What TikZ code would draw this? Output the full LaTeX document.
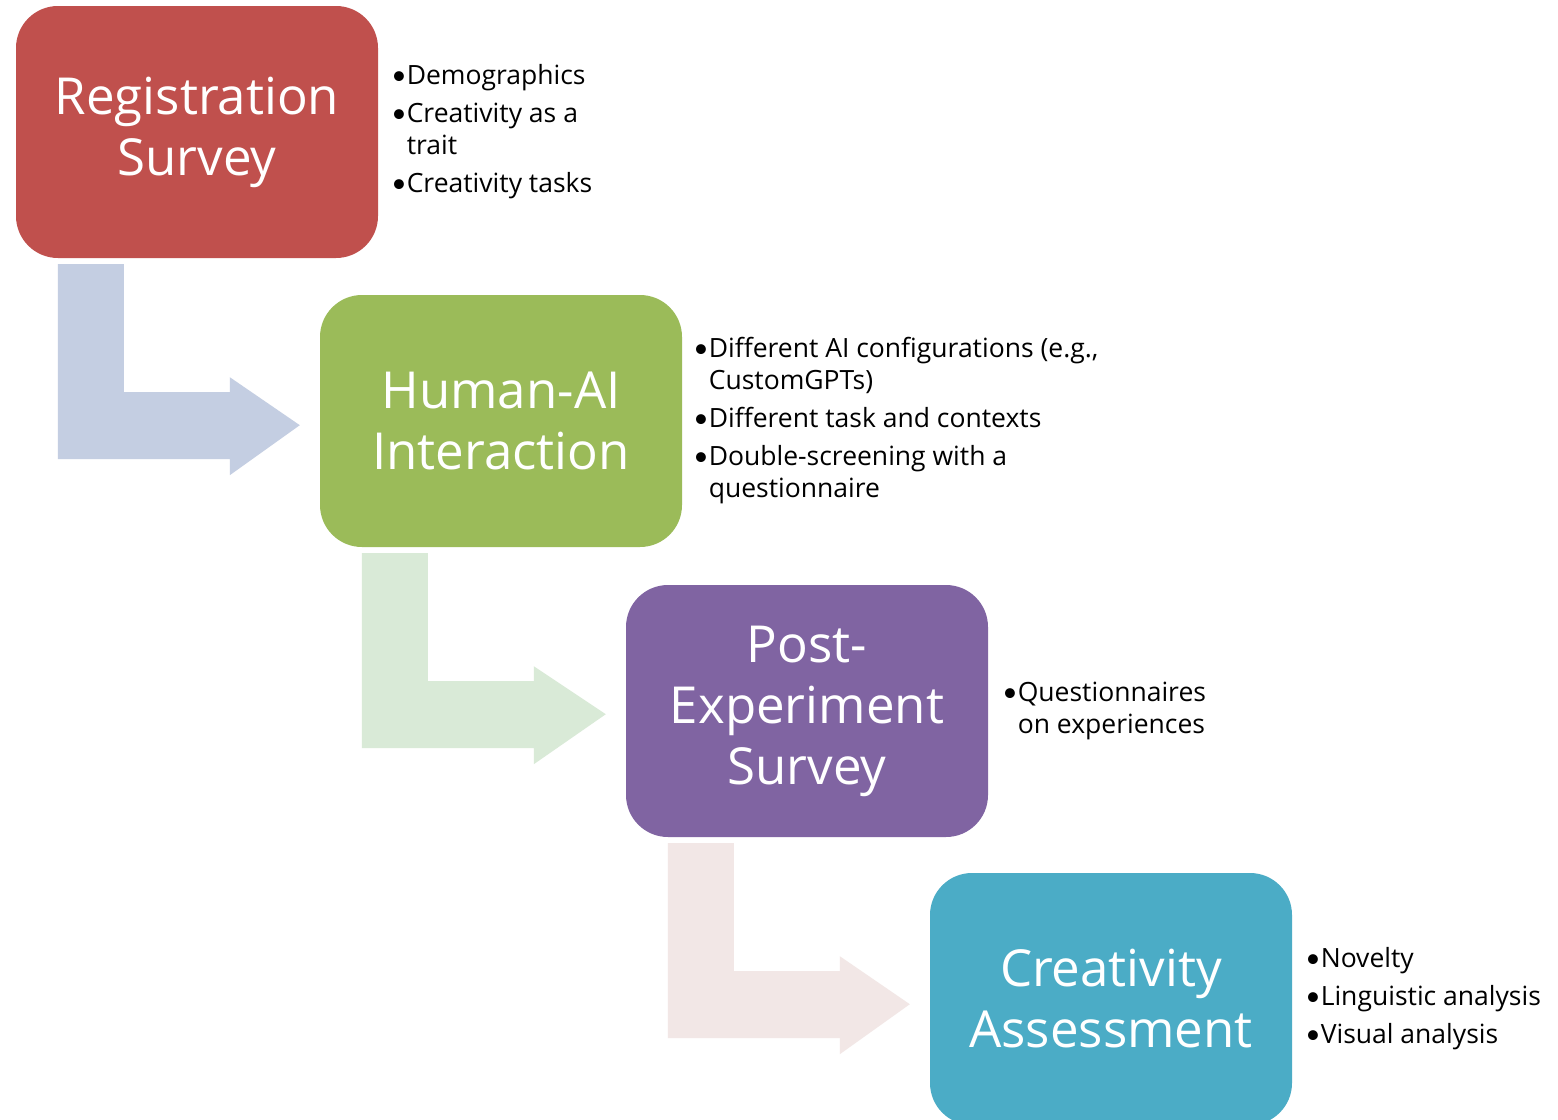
\documentclass[tikz,border=0pt]{standalone}
\usepackage{fontspec}
\setmainfont{Open Sans}
\newfontfamily\dotfont{Lato}
\usetikzlibrary{calc}

\definecolor{regred}{HTML}{C0504D}
\definecolor{haigreen}{HTML}{9BBB59}
\definecolor{postpurple}{HTML}{8064A2}
\definecolor{assteal}{HTML}{4BACC6}
\definecolor{flowblue}{HTML}{C4CEE2}
\definecolor{flowgreen}{HTML}{D9EAD7}
\definecolor{flowpink}{HTML}{F2E7E6}

\newcommand{\blt}{{\dotfont\textbullet}}

\tikzset{
  stage/.style={rounded corners=42pt, minimum width=362pt, minimum height=252pt,
    inner sep=0pt, text=white, align=center, font=\fontsize{51}{61}\selectfont},
  notes/.style={anchor=west, inner sep=0pt, align=left, font=\fontsize{26.5}{32}\selectfont},
}

% bent arrow from the foot of one stage to the side of the next
% #1 source node, #2 target node, #3 fill colour
\newcommand{\bentflow}[3]{%
  \coordinate (s) at ($(#1.south west)+(42,6)$);
  \coordinate (m) at ($(s)+(0,161)$);
  \coordinate (t) at ($(#2.west)+(-20,0)$);
  \fill[#3] (s) -- ++(66,0) -- ++(0,128) -- ++(106,0) -- ++(0,-15)
    -- (t |- m) -- ($(s)+(172,211)$) -- ++(0,-16) -- ($(s)+(0,195)$) -- cycle;
}

\begin{document}
\begin{tikzpicture}[x=1pt,y=-1pt]
\clip (0,0) rectangle (1558,1119);
\fill[white] (0,0) rectangle (1558,1119);

% stages
\node[stage, fill=regred]     (reg)  at (197,132)  {Registration\\Survey};
\node[stage, fill=haigreen]   (hai)  at (501,421)  {Human-AI\\Interaction};
\node[stage, fill=postpurple] (post) at (807,711)  {Post-\\Experiment\\Survey};
\node[stage, fill=assteal]    (ass)  at (1111,999) {Creativity\\Assessment};

% flow arrows
\bentflow{reg}{hai}{flowblue}
\bentflow{hai}{post}{flowgreen}
\bentflow{post}{ass}{flowpink}

% notes beside each stage
\node[notes] (regnotes) at ($(reg.east)+(13,0)$) {%
  \begin{tabular}{@{}l@{}l@{}}
  \blt&Demographics\\[6pt]
  \blt&Creativity as a\\
  &trait\\[6pt]
  \blt&Creativity tasks
  \end{tabular}};
\node[notes] (hainotes) at ($(hai.east)+(11,0)$) {%
  \begin{tabular}{@{}l@{}l@{}}
  \blt&Different AI configurations (e.g.,\\
  &CustomGPTs)\\[6pt]
  \blt&Different task and contexts\\[6pt]
  \blt&Double-screening with a\\
  &questionnaire
  \end{tabular}};
\node[notes] (postnotes) at ($(post.east)+(14,0)$) {%
  \begin{tabular}{@{}l@{}l@{}}
  \blt&Questionnaires\\
  &on experiences
  \end{tabular}};
\node[notes] (assnotes) at ($(ass.east)+(13,0)$) {%
  \begin{tabular}{@{}l@{}l@{}}
  \blt&Novelty\\[6pt]
  \blt&Linguistic analysis\\[6pt]
  \blt&Visual analysis
  \end{tabular}};
\end{tikzpicture}
\end{document}
